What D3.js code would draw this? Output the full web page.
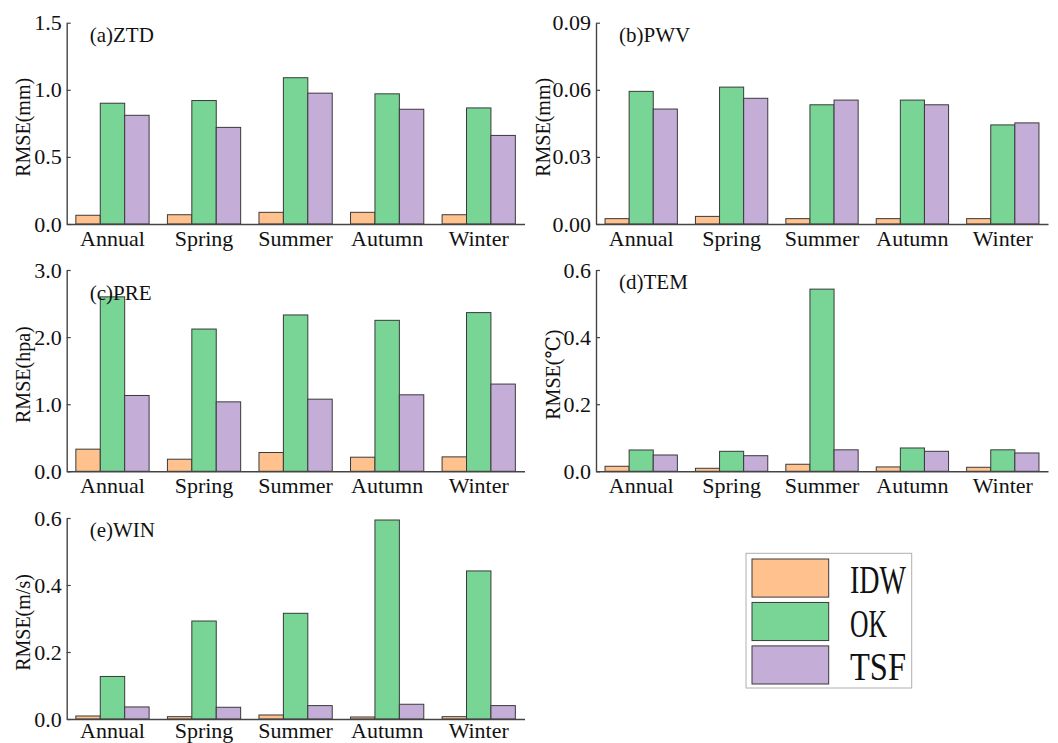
<!DOCTYPE html>
<html>
<head>
<meta charset="utf-8">
<script src="https://cdn.jsdelivr.net/npm/d3@7"></script>
<style>
  html, body { margin: 0; padding: 0; background: #fff; }
  svg { display: block; }
  svg text { font-family: "Liberation Serif", "DejaVu Serif", "Times New Roman", serif !important; fill: #111; }
</style>
</head>
<body>
<svg id="chart" width="1058" height="743"></svg>
<script>
// ---------- data ----------
const categories = ["Annual", "Spring", "Summer", "Autumn", "Winter"];
const methods = ["IDW", "OK", "TSF"];

const ztdIDW = [0.065, 0.069, 0.087, 0.087, 0.069];
const ztdOK  = [0.90, 0.92, 1.09, 0.97, 0.865];
const ztdTSF = [0.81, 0.72, 0.975, 0.855, 0.66];

const pwvIDW = [0.0024, 0.0034, 0.0024, 0.0024, 0.0024];
const pwvOK  = [0.0593, 0.0612, 0.0533, 0.0554, 0.0443];
const pwvTSF = [0.0514, 0.0562, 0.0554, 0.0533, 0.0452];

const preIDW = [0.33, 0.18, 0.28, 0.21, 0.215];
const preOK  = [2.60, 2.12, 2.33, 2.25, 2.365];
const preTSF = [1.13, 1.035, 1.075, 1.14, 1.30];

const temIDW = [0.015, 0.009, 0.021, 0.013, 0.012];
const temOK  = [0.0635, 0.0596, 0.543, 0.0695, 0.064];
const temTSF = [0.0486, 0.0465, 0.064, 0.0596, 0.0546];

const winIDW = [0.009, 0.007, 0.012, 0.006, 0.007];
const winOK  = [0.127, 0.2925, 0.3155, 0.594, 0.442];
const winTSF = [0.036, 0.035, 0.040, 0.044, 0.040];

const ztdTicks = [0, 0.5, 1.0, 1.5];
const pwvTicks = [0, 0.03, 0.06, 0.09];
const preTicks = [0, 1.0, 2.0, 3.0];
const temTicks = [0, 0.2, 0.4, 0.6];
const winTicks = [0, 0.2, 0.4, 0.6];

const panelTitles = ["(a)ZTD", "(b)PWV", "(c)PRE", "(d)TEM", "(e)WIN"];
const yTitles = ["RMSE(mm)", "RMSE(mm)", "RMSE(hpa)", "RMSE(℃)", "RMSE(m/s)"];

// ---------- styling / layout ----------
const FONT = '"Liberation Serif", "DejaVu Serif", serif';
const colors = { IDW: "#FFC28E", OK: "#78D596", TSF: "#C4AED7" };
const panels = [
  { title: panelTitles[0], ytitle: yTitles[0], series: [ztdIDW, ztdOK, ztdTSF], ticks: ztdTicks, fmt: ".1f",
    left: 66.7, right: 524.5, top: 22.7, bottom: 224, titleDy: 19, ylabX: 30, xpad: 6 },
  { title: panelTitles[1], ytitle: yTitles[1], series: [pwvIDW, pwvOK, pwvTSF], ticks: pwvTicks, fmt: ".2f",
    left: 596, right: 1048, top: 22.7, bottom: 224, titleDy: 19, ylabX: 550, xpad: 6 },
  { title: panelTitles[2], ytitle: yTitles[2], series: [preIDW, preOK, preTSF], ticks: preTicks, fmt: ".1f",
    left: 66.7, right: 524.5, top: 270, bottom: 471.3, titleDy: 29.5, ylabX: 30, xpad: 6 },
  { title: panelTitles[3], ytitle: yTitles[3], series: [temIDW, temOK, temTSF], ticks: temTicks, fmt: ".1f",
    left: 596, right: 1048, top: 270, bottom: 471.3, titleDy: 19, ylabX: 560, xpad: 6 },
  { title: panelTitles[4], ytitle: yTitles[4], series: [winIDW, winOK, winTSF], ticks: winTicks, fmt: ".1f",
    left: 66.7, right: 524.5, top: 518, bottom: 719, titleDy: 19, ylabX: 30, xpad: 3 }
];

const svg = d3.select("#chart").attr("font-family", FONT);

panels.forEach(p => {
  const g = svg.append("g");
  const x = d3.scaleBand().domain(categories).range([p.left, p.right]).paddingInner(0.2).paddingOuter(0.1);
  const xs = d3.scaleBand().domain(methods).range([0, x.bandwidth()]);
  const y = d3.scaleLinear().domain([0, p.ticks[p.ticks.length - 1]]).range([p.bottom, p.top]);

  const rows = [];
  categories.forEach((c, i) => methods.forEach((m, j) => rows.push({ c, m, v: p.series[j][i] })));

  g.selectAll("rect.bar").data(rows).join("rect")
    .attr("class", "bar")
    .attr("x", d => x(d.c) + xs(d.m))
    .attr("y", d => y(d.v))
    .attr("width", xs.bandwidth())
    .attr("height", d => y(0) - y(d.v))
    .attr("fill", d => colors[d.m])
    .attr("stroke", "#3a3a3a")
    .attr("stroke-width", 1);

  // y axis
  const ya = g.append("g").attr("transform", `translate(${p.left},0)`)
    .call(d3.axisLeft(y).tickValues(p.ticks).tickFormat(d3.format(p.fmt)).tickSizeInner(-4).tickSizeOuter(0).tickPadding(5));
  ya.attr("font-family", FONT);
  ya.select(".domain").attr("stroke", "#444").attr("stroke-width", 1.4);
  ya.selectAll(".tick line").attr("stroke", "#444").attr("stroke-width", 1.2);
  ya.selectAll(".tick text").attr("font-size", 22).attr("fill", "#111");

  // x axis
  const xa = g.append("g").attr("transform", `translate(0,${p.bottom})`)
    .call(d3.axisBottom(x).tickSize(0).tickPadding(p.xpad));
  xa.attr("font-family", FONT);
  xa.select(".domain").attr("stroke", "#444").attr("stroke-width", 1.4);
  xa.selectAll(".tick text").attr("font-size", 22).attr("fill", "#111");

  // panel title
  g.append("text").attr("x", p.left + 23).attr("y", p.top + p.titleDy)
    .attr("font-size", 21).text(p.title);

  // y title
  g.append("text")
    .attr("transform", `translate(${p.ylabX},${(p.top + p.bottom) / 2 + 4}) rotate(-90)`)
    .attr("text-anchor", "middle")
    .attr("font-size", 20).text(p.ytitle);
});

// ---------- legend ----------
const lg = svg.append("g");
lg.append("rect").attr("x", 746).attr("y", 553.3).attr("width", 165.7).attr("height", 134.7)
  .attr("fill", "#fff").attr("stroke", "#b0b0b0").attr("stroke-width", 1);
const legendLen = { IDW: 56, OK: 37, TSF: 56 };
const ly = d3.scaleBand().domain(methods).range([558, 684]).paddingInner(0.1);
methods.forEach(m => {
  lg.append("rect").attr("x", 752).attr("y", ly(m) + 1).attr("width", 76.7).attr("height", ly.bandwidth() - 1)
    .attr("fill", colors[m]).attr("stroke", "#3a3a3a").attr("stroke-width", 1);
  lg.append("text").attr("x", 850).attr("y", ly(m) + ly.bandwidth() - 4)
    .attr("textLength", legendLen[m]).attr("lengthAdjust", "spacingAndGlyphs")
    .attr("font-size", 40).text(m);
});
</script>
</body>
</html>
